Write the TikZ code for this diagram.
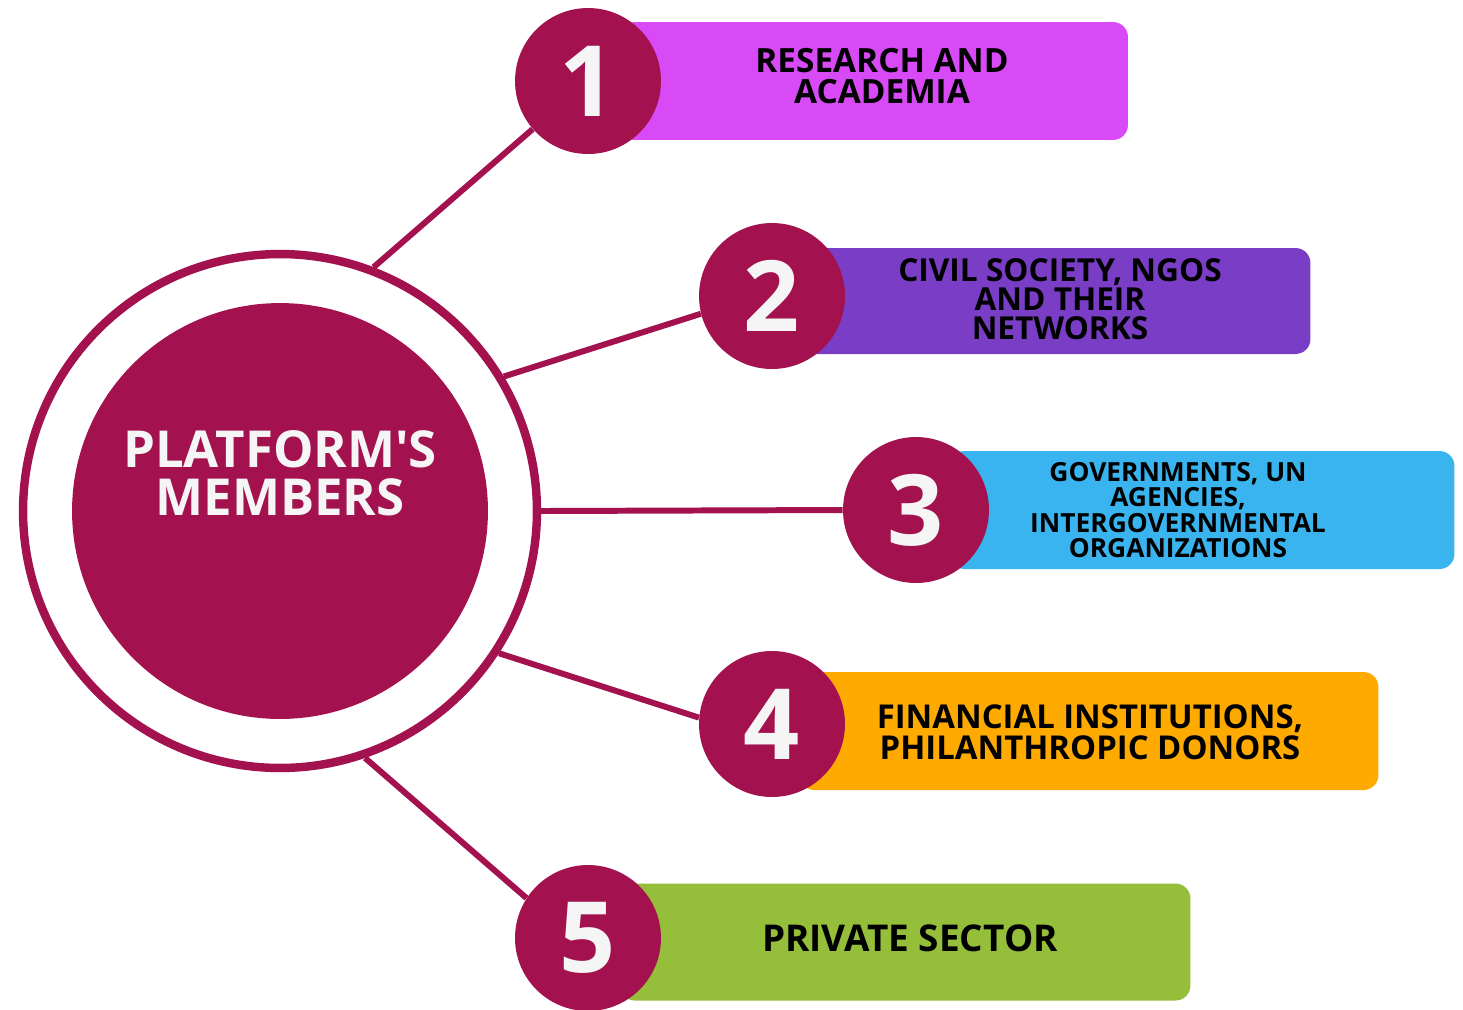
\documentclass[tikz,border=0pt]{standalone}
\usepackage{fontspec}
\setmainfont{Open Sans}
\usepackage{tikz}
\definecolor{crimson}{HTML}{A3114F}
\definecolor{magbar}{HTML}{D84AF6}
\definecolor{purpbar}{HTML}{7A3DC5}
\definecolor{bluebar}{HTML}{3AB4EE}
\definecolor{orangebar}{HTML}{FFAA00}
\definecolor{greenbar}{HTML}{95BE3A}
\definecolor{offwhite}{HTML}{F5F5F5}
\tikzset{
  numcirc/.style={circle, fill=crimson, minimum size=2.92cm, inner sep=0pt,
    text=offwhite, font=\fontsize{56}{56}\selectfont\bfseries},
  bar/.style={rectangle, fill=#1, rounded corners=0.3cm, minimum height=2.36cm, inner sep=0pt},
  bartext/.style={align=center, text=black, inner sep=0pt},
  link/.style={crimson, line width=3.4pt}
}

\begin{document}
\begin{tikzpicture}[x=0.02cm, y=-0.02cm]
                \useasboundingbox (0,0) rectangle (1463,1009);

                % outer ring and centre disk
                \node[circle, draw=crimson, line width=4.8pt, minimum size=10.28cm, inner sep=0pt] (ring) at (280,511) {};
                \node[circle, fill=crimson, minimum size=8.32cm, inner sep=0pt] (hub) at (280,511) {};
                \node[text=offwhite, align=center, font=\fontsize{29}{27.5}\selectfont\bfseries] (hubtxt) at (280,473) {PLATFORM\textquotesingle S\\MEMBERS};

                % centres of the number circles
                \path (588,81) coordinate (p1) (772,296) coordinate (p2) (916,510) coordinate (p3)
                      (772,724) coordinate (p4) (588,938) coordinate (p5);

                % bars
                \node[bar=magbar, minimum width=10.16cm] (bar1) at (874,81) {};
                \node[bar=purpbar, minimum width=10.22cm, minimum height=2.12cm] (bar2) at (1055,301) {};
                \node[bar=bluebar, minimum width=10.10cm] (bar3) at (1202,510) {};
                \node[bar=orangebar, minimum width=11.58cm] (bar4) at (1089,731) {};
                \node[bar=greenbar, minimum width=11.42cm, minimum height=2.34cm] (bar5) at (905,942) {};

                % bar labels
                \node[bartext, font=\fontsize{19}{17.6}\selectfont\bfseries] (txt1) at (882,76) {RESEARCH AND\\ACADEMIA};
                \node[bartext, font=\fontsize{18}{16.4}\selectfont\bfseries] (txt2) at (1060,299) {CIVIL SOCIETY, NGOS\\AND THEIR\\NETWORKS};
                \node[bartext, font=\fontsize{15}{14.3}\selectfont\bfseries] (txt3) at (1178,510) {GOVERNMENTS, UN\\AGENCIES,\\INTERGOVERNMENTAL\\ORGANIZATIONS};
                \node[bartext, font=\fontsize{18.7}{17.6}\selectfont\bfseries] (txt4) at (1090,732) {FINANCIAL INSTITUTIONS,\\PHILANTHROPIC DONORS};
                \node[bartext, font=\fontsize{21}{20}\selectfont\bfseries] (txt5) at (910,938) {PRIVATE SECTOR};

                % number circles
                \foreach \i in {1,...,5}
                    \node[numcirc] (num\i) at (p\i) {\i};

                % connectors
                \draw[link] (ring.69.5) -- (num1.221.7);
                \draw[link] (ring.31.1) -- (num2.194.8);
                \draw[link] (ring.0) -- (num3.180);
                \draw[link] (ring.-33.2) -- (num4.175.4);
                \draw[link] (ring.-71.1) -- (num5.147.6);
\end{tikzpicture}
\end{document}
